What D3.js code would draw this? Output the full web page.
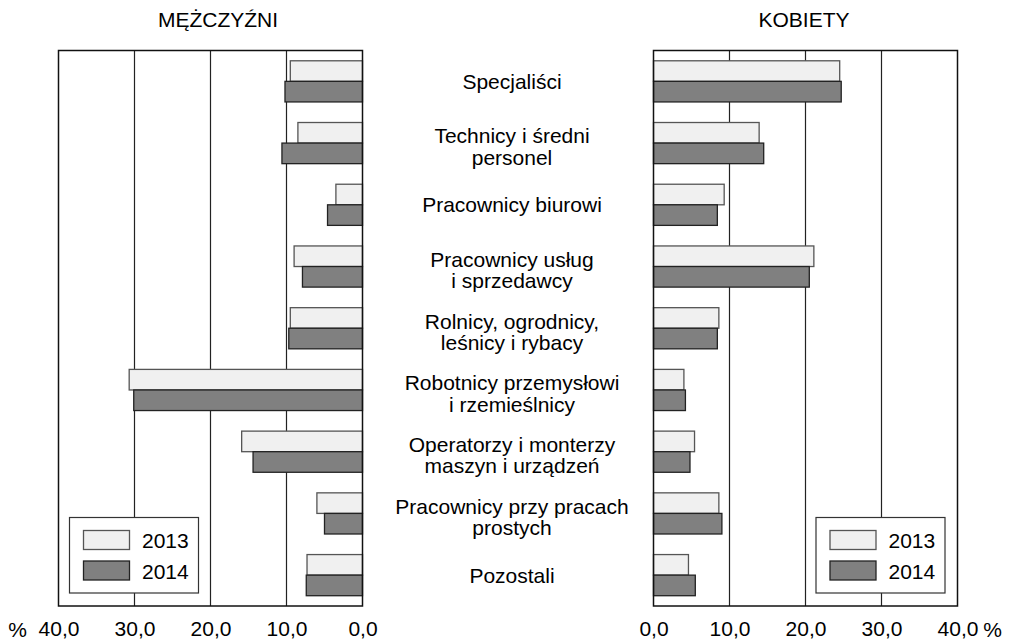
<!DOCTYPE html>
<html>
<head>
<meta charset="utf-8">
<script src="https://cdn.jsdelivr.net/npm/d3@7"></script>
<style>
  html, body { margin: 0; padding: 0; background: #fff; }
  svg { display: block; font-family: "Liberation Sans", Arial, sans-serif; }
</style>
</head>
<body>
<svg width="1012" height="642"></svg>
<script>
// dane
const categories = [
  ['Specjaliści'],
  ['Technicy i średni', 'personel'],
  ['Pracownicy biurowi'],
  ['Pracownicy usług', 'i sprzedawcy'],
  ['Rolnicy, ogrodnicy,', 'leśnicy i rybacy'],
  ['Robotnicy przemysłowi', 'i rzemieślnicy'],
  ['Operatorzy i monterzy', 'maszyn i urządzeń'],
  ['Pracownicy przy pracach', 'prostych'],
  ['Pozostali']
];
const years = ['2013', '2014'];
const men2013 = [9.5, 8.5, 3.5, 9.0, 9.5, 30.7, 15.9, 6.0, 7.3];
const men2014 = [10.2, 10.6, 4.6, 7.9, 9.7, 30.1, 14.4, 5.0, 7.4];
const women2013 = [24.5, 13.9, 9.3, 21.1, 8.6, 4.0, 5.4, 8.6, 4.6];
const women2014 = [24.7, 14.5, 8.4, 20.5, 8.4, 4.2, 4.8, 9.0, 5.5];
const tickValues = [0, 10, 20, 30, 40];

const fills = { '2013': '#f0f0f0', '2014': '#808080' };
const strokes = { '2013': '#555', '2014': '#222' };
const fontSize = '21px';

const svg = d3.select('svg');
const plotTop = 50.5, plotBottom = 606;

const keys = categories.map((c, i) => i);
const y = d3.scaleBand().domain(keys).range([plotTop, plotBottom]).padding(0);
const yInner = d3.scaleBand().domain(years).range([0, y.bandwidth()]).paddingInner(0).paddingOuter(0.5);

const fmt = (d) => d3.format('.1f')(d).replace('.', ',');

function panel(x, v2013, v2014, title, titleX, side) {
  const [x0, x1] = d3.extent(x.range());
  const g = svg.append('g');

  // linie siatki
  g.selectAll('.grid')
    .data(tickValues.filter((t) => t > 0 && t < 40))
    .enter()
    .append('line')
    .attr('x1', (d) => x(d)).attr('x2', (d) => x(d))
    .attr('y1', plotTop).attr('y2', plotBottom)
    .attr('stroke', '#222')
    .attr('stroke-width', 1.2);

  // słupki
  const rows = keys.map((i) => ({ i, vals: [ { year: '2013', v: v2013[i] }, { year: '2014', v: v2014[i] } ] }));
  const rg = g.selectAll('.row')
    .data(rows)
    .enter()
    .append('g')
    .attr('transform', (d) => `translate(0,${y(d.i)})`);
  rg.selectAll('rect')
    .data((d) => d.vals)
    .enter()
    .append('rect')
    .attr('x', (d) => Math.min(x(0), x(d.v)))
    .attr('y', (d) => yInner(d.year))
    .attr('width', (d) => Math.abs(x(d.v) - x(0)))
    .attr('height', yInner.bandwidth())
    .attr('fill', (d) => fills[d.year])
    .attr('stroke', (d) => strokes[d.year])
    .attr('stroke-width', 1.3);

  // ramka
  g.append('rect')
    .attr('x', x0).attr('y', plotTop)
    .attr('width', x1 - x0).attr('height', plotBottom - plotTop)
    .attr('fill', 'none')
    .attr('stroke', '#111')
    .attr('stroke-width', 1.5);

  // oś x
  const ax = g.append('g')
    .attr('transform', `translate(0,${plotBottom})`)
    .call(d3.axisBottom(x).tickValues(tickValues).tickFormat(fmt).tickSize(0).tickPadding(15.5));
  ax.select('.domain').remove();
  ax.selectAll('text').attr('font-size', fontSize).attr('font-family', 'Liberation Sans, Arial, sans-serif').attr('fill', '#000');

  // znak %
  g.append('text')
    .attr('x', side === 'left' ? x(40) - 41 : x(40) + 35)
    .attr('y', 636.5)
    .attr('text-anchor', 'middle')
    .attr('font-size', fontSize)
    .text('%');

  // tytuł
  g.append('text')
    .attr('x', titleX)
    .attr('y', 27)
    .attr('text-anchor', 'middle')
    .attr('font-size', fontSize)
    .text(title);

  // legenda
  const lx = side === 'left' ? x0 + 11 : x1 - 141.5;
  const lg = g.append('g').attr('transform', `translate(${lx},517.5)`);
  lg.append('rect')
    .attr('width', 129).attr('height', 75.5)
    .attr('fill', '#fff')
    .attr('stroke', '#333')
    .attr('stroke-width', 1.2);
  years.forEach((yr, k) => {
    lg.append('rect')
      .attr('x', 14).attr('y', 13 + k * 30.5)
      .attr('width', 46).attr('height', 19)
      .attr('fill', fills[yr])
      .attr('stroke', strokes[yr])
      .attr('stroke-width', 1.3);
    lg.append('text')
      .attr('x', 72.5).attr('y', 30 + k * 31.5)
      .attr('font-size', fontSize)
      .text(yr);
  });
}

const xLeft = d3.scaleLinear().domain([40, 0]).range([58.5, 362.5]);
const xRight = d3.scaleLinear().domain([0, 40]).range([653.5, 957.5]);

panel(xLeft, men2013, men2014, 'MĘŻCZYŹNI', 218, 'left');
panel(xRight, women2013, women2014, 'KOBIETY', 804, 'right');

// etykiety kategorii
const lineH = 21.5;
const labels = svg.append('g')
  .selectAll('text')
  .data(categories)
  .enter()
  .append('text')
  .attr('text-anchor', 'middle')
  .attr('font-size', fontSize)
  .attr('fill', '#000');
labels.each(function(lines, i) {
  const cy = y(i) + y.bandwidth() / 2;
  const first = lines.length === 1 ? cy + 7.5 : cy + 11 - (lines.length - 1) * lineH / 2;
  d3.select(this).selectAll('tspan')
    .data(lines)
    .enter()
    .append('tspan')
    .attr('x', 512)
    .attr('y', (d, k) => first + k * lineH)
    .text((d) => d);
});
</script>
</body>
</html>
